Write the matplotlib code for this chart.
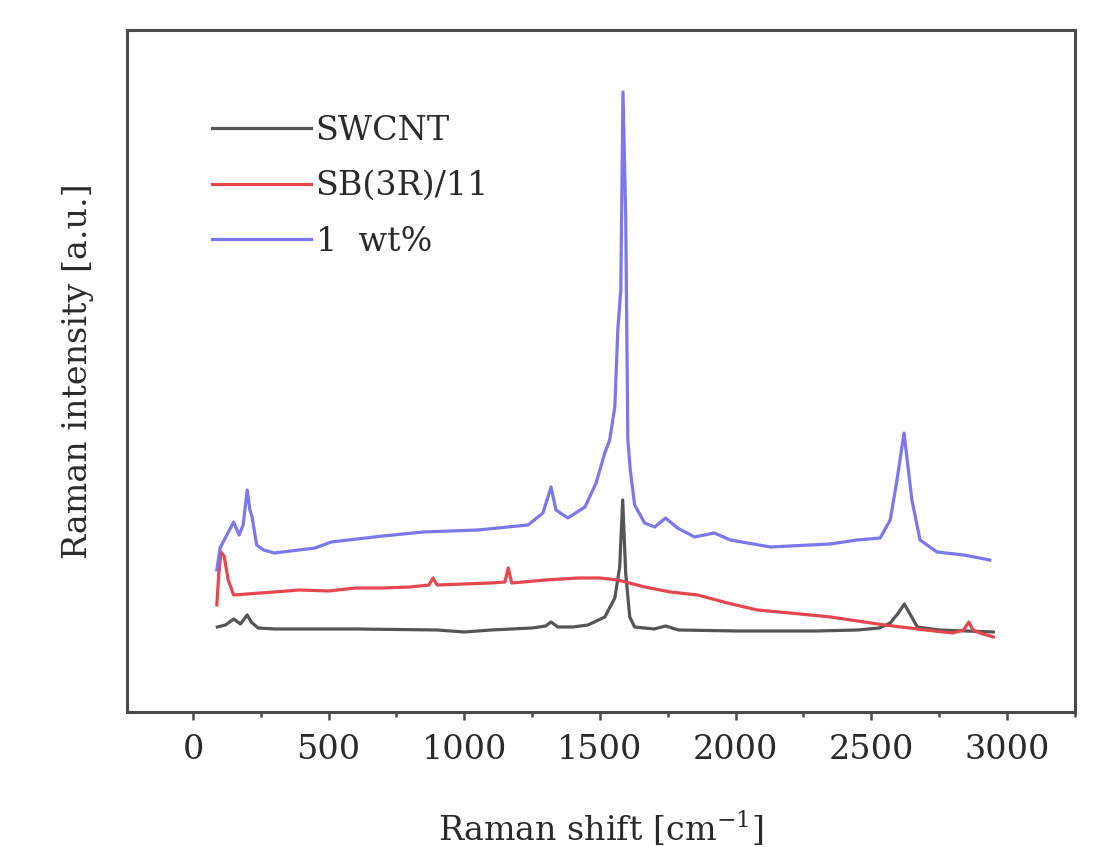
import numpy as np
import matplotlib
matplotlib.use("Agg")
from matplotlib import pyplot as plt
from matplotlib.ticker import MultipleLocator

# Raman shift (cm-1) / intensity (a.u.)
swcnt_x = [90, 120, 150, 175, 200, 215, 240, 300, 600, 900, 1000, 1100, 1250, 1300, 1320,
           1345, 1400, 1456, 1518, 1555, 1573, 1584, 1595, 1610, 1628, 1700, 1742, 1790,
           2000, 2300, 2450, 2530, 2570, 2600, 2622, 2645, 2670, 2750, 2850, 2950]
swcnt_y = [85, 87, 93, 88, 97, 90, 84, 83, 83, 82, 80, 82, 84, 86, 90,
           85, 85, 87, 95, 114, 145, 212, 139, 95, 85, 83, 86, 82,
           81, 81, 82, 84, 89, 99, 108, 97, 85, 82, 81, 80]

sb_x = [88, 95, 103, 115, 130, 150, 200, 300, 390, 500, 600, 700, 800, 870, 885, 900,
        1000, 1100, 1150, 1162, 1175, 1300, 1420, 1500, 1566, 1665, 1760, 1860, 1970,
        2080, 2200, 2350, 2550, 2700, 2800, 2840, 2860, 2875, 2900, 2950]
sb_y = [107, 137, 160, 156, 132, 117, 118, 120, 122, 121, 124, 124, 125, 127, 134, 127,
        128, 129, 130, 144, 129, 132, 134, 134, 132, 125, 120, 117, 109,
        102, 99, 95, 87, 82, 79, 82, 90, 82, 79, 75]

wt_x = [88, 100, 125, 150, 170, 185, 200, 210, 218, 235, 260, 300, 450, 510, 700, 850,
        1050, 1235, 1290, 1320, 1338, 1382, 1445, 1486, 1518, 1536, 1555, 1566, 1577,
        1585, 1595, 1603, 1612, 1628, 1665, 1702, 1742, 1786, 1849, 1922, 1981, 2128,
        2349, 2448, 2533, 2570, 2595, 2621, 2650, 2680, 2742, 2841, 2937]
wt_y = [142, 164, 177, 190, 177, 187, 222, 202, 195, 167, 162, 159, 164, 170, 176, 180,
        182, 187, 199, 225, 202, 194, 205, 229, 259, 272, 305, 382, 422,
        620, 498, 272, 242, 207, 189, 185, 194, 184, 175, 179, 172, 165,
        168, 172, 174, 192, 232, 279, 212, 172, 160, 157, 152]

labels = ["SWCNT", "SB(3R)/11", "1  wt%"]
colors = ["#555555", "#e6474f", "#7a78ec"]

plt.rcParams['font.family'] = ['DejaVu Serif']
axis_col = "#4a4a4a"
text_col = "#2a2a2a"

fig = plt.figure(figsize=(10.94, 8.47), dpi=100)
ax = fig.add_axes([0.1161, 0.1594, 0.8665, 0.8052])

ax.plot(swcnt_x, swcnt_y, color=colors[0], lw=2.3, label=labels[0])
ax.plot(sb_x, sb_y, color=colors[1], lw=2.3, label=labels[1])
ax.plot(wt_x, wt_y, color=colors[2], lw=2.3, label=labels[2])

ax.set_xlim(-243, 3251)
ax.set_ylim(0, 682)

ax.xaxis.set_major_locator(MultipleLocator(500))
ax.xaxis.set_minor_locator(MultipleLocator(250))
ax.tick_params(axis='x', which='major', direction='out', length=6, width=1.8,
               color=axis_col, labelsize=24, labelcolor=text_col, pad=10)
ax.tick_params(axis='x', which='minor', direction='out', length=3.5, width=1.8,
               color=axis_col)
ax.set_yticks([])

for s in ax.spines.values():
    s.set_color(axis_col)
    s.set_linewidth(2.2)

ax.set_xlabel("Raman shift [cm$^{\\mathregular{-1}}$]", fontsize=24, color=text_col, labelpad=30)
ax.set_ylabel("Raman intensity [a.u.]", fontsize=24, color=text_col, labelpad=24)

ax.legend(loc='upper left', bbox_to_anchor=(0.09, 0.876), frameon=False, fontsize=24,
          handlelength=2.95, handletextpad=0.15, labelspacing=0.71, borderpad=0,
          borderaxespad=0, labelcolor=text_col)

fig.savefig("out.png", dpi=100, facecolor="white")
